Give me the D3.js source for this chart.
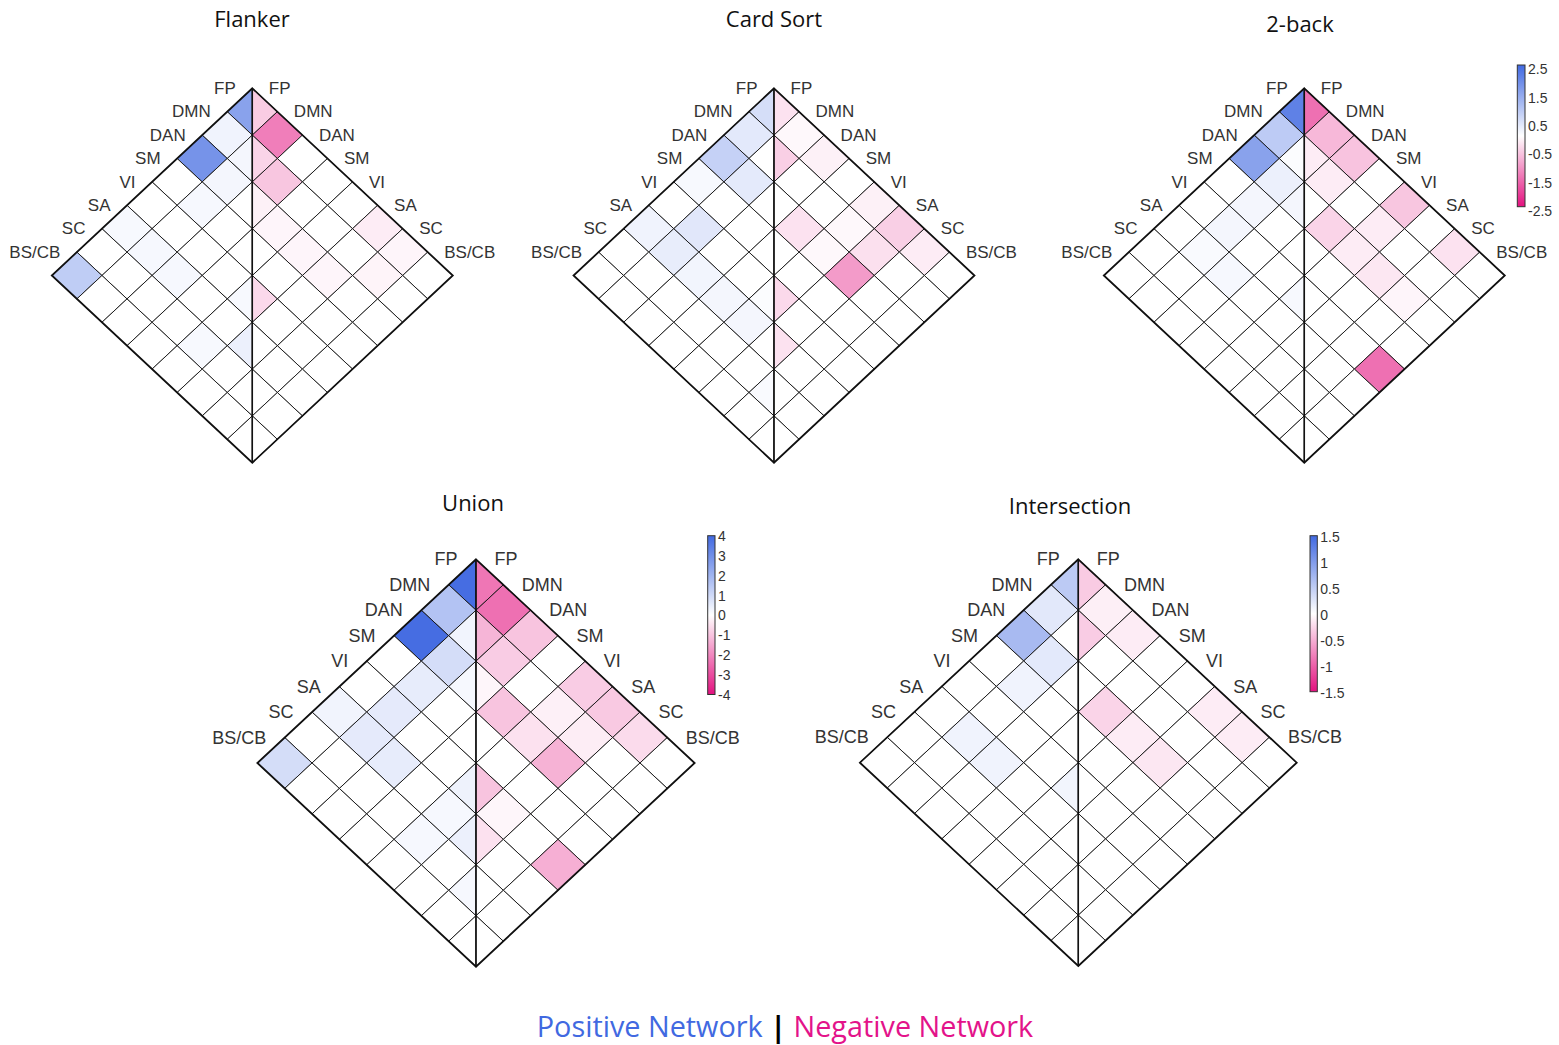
<!DOCTYPE html>
<html>
<head>
<meta charset="utf-8">
<script src="https://cdn.jsdelivr.net/npm/d3@7"></script>
<style>
  html, body { margin: 0; padding: 0; background: #fff; }
  svg { display: block; }
</style>
</head>
<body>
<svg id="chart" width="1559" height="1045"></svg>
<script>
// Brain networks, in matrix order
const networks = ["FP", "DMN", "DAN", "SM", "VI", "SA", "SC", "BS/CB"];

// Network-pair strengths, lower triangle: row i holds pairs (i, 0..i)
const flankerPos = [
  [1.55],
  [0.20, 0.15],
  [1.80, 0.15, 0.00],
  [0.00, 0.12, 0.00, 0.00],
  [0.00, 0.00, 0.00, 0.00, 0.10],
  [0.10, 0.12, 0.12, 0.00, 0.00, 0.25],
  [0.00, 0.00, 0.00, 0.00, 0.10, 0.00, 0.00],
  [0.84, 0.00, 0.00, 0.00, 0.00, 0.00, 0.00, 0.00]
];
const flankerNeg = [
  [-0.54],
  [-1.35, -0.45],
  [0.00, -0.60, -0.15],
  [0.00, 0.00, -0.10, 0.00],
  [0.00, 0.00, -0.10, 0.00, -0.40],
  [-0.20, 0.00, -0.10, 0.00, 0.00, 0.00],
  [-0.10, -0.12, 0.00, 0.00, 0.00, 0.00, 0.00],
  [0.00, 0.00, 0.00, 0.00, 0.00, 0.00, 0.00, 0.00]
];

const cardSortPos = [
  [0.55],
  [0.37, 0.00],
  [0.76, 0.35, 0.00],
  [0.10, 0.00, 0.00, 0.00],
  [0.00, 0.40, 0.00, 0.00, 0.05],
  [0.20, 0.30, 0.17, 0.15, 0.15, 0.00],
  [0.00, 0.00, 0.00, 0.00, 0.00, 0.00, 0.08],
  [0.00, 0.00, 0.00, 0.00, 0.00, 0.00, 0.00, 0.00]
];
const cardSortNeg = [
  [-0.30],
  [-0.07, -0.50],
  [-0.15, 0.00, 0.00],
  [0.00, 0.00, -0.30, 0.00],
  [-0.15, -0.07, -0.07, 0.00, -0.40],
  [-0.50, -0.33, -1.05, 0.00, 0.00, -0.30],
  [-0.20, 0.00, 0.00, 0.00, 0.00, 0.00, 0.00],
  [0.00, 0.00, 0.00, 0.00, 0.00, 0.00, 0.00, 0.00]
];

const twoBackPos = [
  [2.10],
  [0.87, 0.05],
  [1.55, 0.25, 0.15],
  [0.00, 0.15, 0.00, 0.00],
  [0.00, 0.15, 0.00, 0.00, 0.10],
  [0.00, 0.08, 0.12, 0.00, 0.00, 0.00],
  [0.00, 0.00, 0.00, 0.00, 0.00, 0.00, 0.00],
  [0.00, 0.00, 0.00, 0.00, 0.00, 0.00, 0.00, 0.00]
];
const twoBackNeg = [
  [-1.50],
  [-0.75, -0.20],
  [-0.63, -0.20, 0.00],
  [0.00, 0.00, -0.45, 0.00],
  [-0.60, -0.20, -0.20, 0.00, 0.00],
  [0.00, 0.00, -0.25, 0.00, 0.00, 0.00],
  [-0.30, 0.00, -0.10, 0.00, 0.00, 0.00, 0.00],
  [0.00, 0.00, 0.00, 0.00, -1.50, 0.00, 0.00, 0.00]
];

const unionPos = [
  [3.90],
  [1.60, 0.30],
  [3.90, 0.90, 0.20],
  [0.00, 0.50, 0.00, 0.00],
  [0.00, 0.55, 0.00, 0.00, 0.35],
  [0.30, 0.55, 0.50, 0.00, 0.20, 0.40],
  [0.00, 0.00, 0.00, 0.00, 0.20, 0.00, 0.20],
  [0.90, 0.00, 0.00, 0.00, 0.00, 0.00, 0.00, 0.00]
];
const unionNeg = [
  [-2.30],
  [-2.40, -1.25],
  [-1.00, -0.85, -0.15],
  [0.00, 0.00, -1.00, 0.00],
  [-0.85, -0.25, -0.50, 0.00, -1.00],
  [-0.90, -0.30, -1.30, 0.00, -0.15, -0.50],
  [-0.60, 0.00, 0.00, 0.00, 0.00, 0.00, 0.00],
  [0.00, 0.00, 0.00, 0.00, -1.35, 0.00, 0.00, 0.00]
];

const intersectionPos = [
  [0.53],
  [0.23, 0.00],
  [0.69, 0.22, 0.00],
  [0.00, 0.12, 0.00, 0.00],
  [0.00, 0.00, 0.00, 0.00, 0.10],
  [0.00, 0.12, 0.12, 0.00, 0.00, 0.00],
  [0.00, 0.00, 0.00, 0.00, 0.00, 0.00, 0.00],
  [0.00, 0.00, 0.00, 0.00, 0.00, 0.00, 0.00, 0.00]
];
const intersectionNeg = [
  [-0.33],
  [-0.10, -0.32],
  [-0.12, 0.00, 0.00],
  [0.00, 0.00, -0.27, 0.00],
  [0.00, 0.00, -0.12, 0.00, 0.00],
  [-0.12, 0.00, -0.15, 0.00, 0.00, 0.00],
  [-0.12, 0.00, 0.00, 0.00, 0.00, 0.00, 0.00],
  [0.00, 0.00, 0.00, 0.00, 0.00, 0.00, 0.00, 0.00]
];

// Colour-bar tick labels
const ticksTop = [2.5, 1.5, 0.5, -0.5, -1.5, -2.5];
const ticksUnion = [4, 3, 2, 1, 0, -1, -2, -3, -4];
const ticksIntersection = [1.5, 1, 0.5, 0, -0.5, -1, -1.5];

const legendParts = ["Positive Network", "|", "Negative Network"];

const POS_COLOR = "#4169E1";
const NEG_COLOR = "#E3138A";
const NEG_END = "#E3117F";

const svg = d3.select("#chart");

const panels = [
  { title: "Flanker", pos: flankerPos, neg: flankerNeg, max: 2.5,
    cx: 252.3, top: 88.3, hx: 25.06, hy: 23.4, titleX: 252, titleY: 27, font: 17, off: 16.5 },
  { title: "Card Sort", pos: cardSortPos, neg: cardSortNeg, max: 2.5,
    cx: 774, top: 88.3, hx: 25.06, hy: 23.4, titleX: 774, titleY: 27, font: 17, off: 16.5 },
  { title: "2-back", pos: twoBackPos, neg: twoBackNeg, max: 2.5,
    cx: 1304.3, top: 88.3, hx: 25.06, hy: 23.4, titleX: 1300, titleY: 32, font: 17, off: 16.5 },
  { title: "Union", pos: unionPos, neg: unionNeg, max: 4,
    cx: 476, top: 559.3, hx: 27.33, hy: 25.46, titleX: 473, titleY: 511, font: 18, off: 18.5 },
  { title: "Intersection", pos: intersectionPos, neg: intersectionNeg, max: 1.5,
    cx: 1078.3, top: 559.3, hx: 27.3, hy: 25.42, titleX: 1070, titleY: 514, font: 18, off: 18.5 }
];

function drawPanel(p) {
  const g = svg.append("g");
  // rotated grid: u = column - row (horizontal), v = row + column (vertical)
  const x = d3.scaleLinear().domain([-8, 8]).range([p.cx - 8 * p.hx, p.cx + 8 * p.hx]);
  const y = d3.scaleLinear().domain([0, 16]).range([p.top, p.top + 16 * p.hy]);
  const color = d3.scaleLinear()
    .domain([-p.max, 0, p.max])
    .range([NEG_END, "#ffffff", POS_COLOR])
    .clamp(true);
  const line = d3.line().x(d => x(d[0])).y(d => y(d[1]));

  const cells = [];
  p.pos.forEach((row, i) => row.forEach((v, j) => {
    const r = i, c = j, u = c - r, w = r + c;
    const pts = (i === j)
      ? [[0, 2 * r], [-1, 2 * r + 1], [0, 2 * r + 2]]
      : [[u, w], [u + 1, w + 1], [u, w + 2], [u - 1, w + 1]];
    cells.push({ v, pts });
  }));
  p.neg.forEach((row, i) => row.forEach((v, j) => {
    const r = j, c = i, u = c - r, w = r + c;
    const pts = (i === j)
      ? [[0, 2 * r], [1, 2 * r + 1], [0, 2 * r + 2]]
      : [[u, w], [u + 1, w + 1], [u, w + 2], [u - 1, w + 1]];
    cells.push({ v, pts });
  }));

  g.selectAll("path.cell").data(cells).join("path")
    .attr("class", "cell")
    .attr("d", d => line(d.pts) + "Z")
    .attr("fill", d => color(d.v))
    .attr("stroke", "#111")
    .attr("stroke-width", 0.9)
    .attr("stroke-linejoin", "miter");

  // outer frame and the dividing diagonal
  g.append("path")
    .attr("d", line([[0, 0], [8, 8], [0, 16], [-8, 8]]) + "Z")
    .attr("fill", "none").attr("stroke", "#111").attr("stroke-width", 1.8);
  g.append("path")
    .attr("d", line([[0, 0], [0, 16]]))
    .attr("stroke", "#111").attr("stroke-width", 1.5);

  // network labels along both upper edges
  g.selectAll("text.lab-l").data(networks).join("text")
    .attr("class", "lab-l")
    .attr("x", (d, k) => x(-k) - p.off)
    .attr("y", (d, k) => y(k))
    .attr("dy", "0.34em")
    .attr("text-anchor", "end")
    .attr("font-family", "'Liberation Sans', Arial, sans-serif")
    .attr("font-size", p.font)
    .attr("fill", "#333")
    .text(d => d);
  g.selectAll("text.lab-r").data(networks).join("text")
    .attr("class", "lab-r")
    .attr("x", (d, k) => x(k) + p.off)
    .attr("y", (d, k) => y(k))
    .attr("dy", "0.34em")
    .attr("text-anchor", "start")
    .attr("font-family", "'Liberation Sans', Arial, sans-serif")
    .attr("font-size", p.font)
    .attr("fill", "#333")
    .text(d => d);

  g.append("text")
    .attr("x", p.titleX).attr("y", p.titleY)
    .attr("text-anchor", "middle")
    .attr("font-family", "'Open Sans', sans-serif")
    .attr("font-size", 22)
    .attr("fill", "#111")
    .text(p.title);
}

panels.forEach(drawPanel);

// colour bars
const defs = svg.append("defs");
function drawColorbar(id, max, ticks, x0, y0, y1, width, labelDy) {
  const color = d3.scaleLinear().domain([-max, 0, max]).range([NEG_END, "#ffffff", POS_COLOR]);
  const grad = defs.append("linearGradient").attr("id", id)
    .attr("x1", 0).attr("y1", 1).attr("x2", 0).attr("y2", 0);
  d3.range(0, 1.0001, 0.05).forEach(t => {
    grad.append("stop").attr("offset", t).attr("stop-color", color(-max + 2 * max * t));
  });
  const yS = d3.scaleLinear().domain([-max, max]).range([y1, y0]);
  svg.append("rect")
    .attr("x", x0).attr("y", y0).attr("width", width).attr("height", y1 - y0)
    .attr("fill", `url(#${id})`).attr("stroke", "#333").attr("stroke-width", 1);
  const ax = svg.append("g")
    .attr("transform", `translate(${x0 + width},0)`)
    .call(d3.axisRight(yS).tickValues(ticks).tickSize(0).tickPadding(3).tickFormat(d => String(d)));
  ax.select(".domain").remove();
  ax.selectAll("text")
    .attr("font-family", "'Liberation Sans', Arial, sans-serif")
    .attr("font-size", 14)
    .attr("fill", "#333")
    .attr("dy", labelDy);
}
drawColorbar("cb-top", 2.5, ticksTop, 1517.3, 65, 206.7, 7.7, "0.62em");
drawColorbar("cb-union", 4, ticksUnion, 707.7, 535.7, 694.5, 7.3, "0.34em");
drawColorbar("cb-inter", 1.5, ticksIntersection, 1310, 535.7, 691.7, 7.3, "0.4em");

// legend
const legend = svg.append("text")
  .attr("x", 785).attr("y", 1037)
  .attr("text-anchor", "middle")
  .attr("font-family", "'Open Sans', sans-serif")
  .attr("font-size", 28.8);
legend.append("tspan").attr("fill", POS_COLOR).text(legendParts[0] + " ");
legend.append("tspan").attr("fill", "#000").attr("font-weight", "bold").text(legendParts[1]);
legend.append("tspan").attr("fill", NEG_COLOR).text(" " + legendParts[2]);
</script>
</body>
</html>
